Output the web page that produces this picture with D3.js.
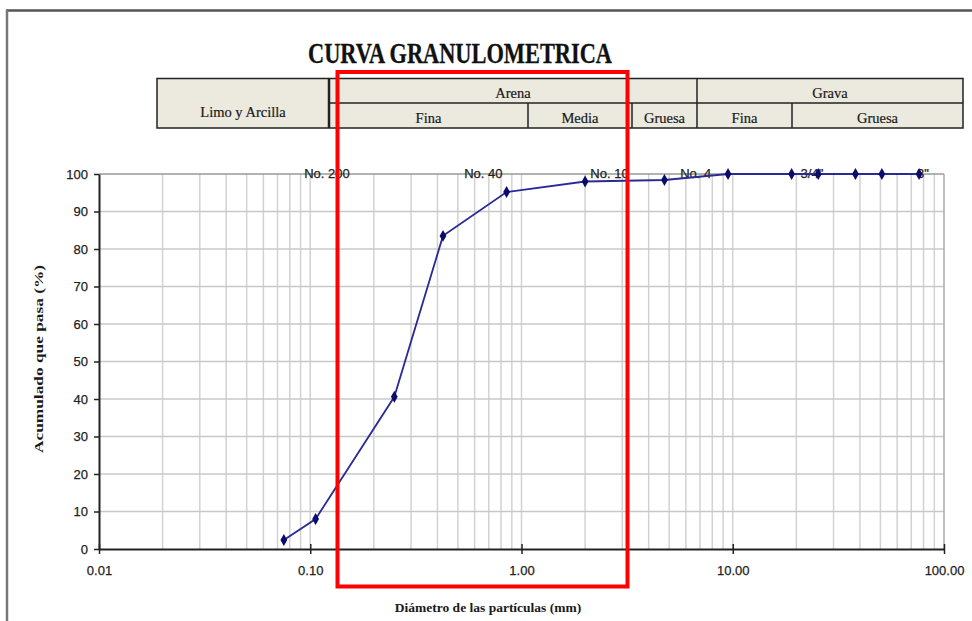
<!DOCTYPE html>
<html>
<head>
<meta charset="utf-8">
<script src="https://cdn.jsdelivr.net/npm/d3@7/dist/d3.min.js"></script>
<style>
html,body{margin:0;padding:0;background:#fff;}
svg{display:block;}
</style>
</head>
<body>
<script>
// ---- DATA ----
const diameters = [0.075, 0.106, 0.25, 0.425, 0.85, 2.0, 4.75, 9.5, 19.0, 25.4, 38.1, 50.8, 76.2];
const passing   = [2.4, 8.0, 40.6, 83.5, 95.2, 98.0, 98.4, 100, 100, 100, 100, 100, 100];
const sieveLabels = ["No. 200", "No. 40", "No. 10", "No. 4", "3/4\"", "3\""];
const sieveLabelAt = [0.12, 0.66, 2.61, 6.68, 23.7, 79.5];
const xTickValues = [0.01, 0.1, 1, 10, 100];
const xTickLabels = ["0.01", "0.10", "1.00", "10.00", "100.00"];
const yTickValues = [0, 10, 20, 30, 40, 50, 60, 70, 80, 90, 100];
const headerTop = ["Limo y Arcilla", "Arena", "Grava"];
const headerSub = ["Fina", "Media", "Gruesa", "Fina", "Gruesa"];
const titleText = "CURVA GRANULOMETRICA";
const yTitle = "Acumulado que pasa (%)";
const xTitle = "Diámetro de las partículas (mm)";

// ---- LAYOUT ----
const W = 972, H = 621;
const svg = d3.select("body").append("svg").attr("width", W).attr("height", H);
const serif = "'Liberation Serif', 'Times New Roman', serif";
const sans = "'Liberation Sans', Arial, sans-serif";

const x = d3.scaleLog().domain([0.01, 100]).range([99, 944]);
const y = d3.scaleLinear().domain([0, 100]).range([549, 174]);

// page frame
svg.append("line").attr("x1", 6).attr("x2", W).attr("y1", 10.5).attr("y2", 10.5)
  .attr("stroke", "#555").attr("stroke-width", 2.5);
svg.append("line").attr("x1", 7).attr("x2", 7).attr("y1", 10).attr("y2", H)
  .attr("stroke", "#777").attr("stroke-width", 2.5);

// title
svg.append("text").attr("x", 308).attr("y", 63)
  .attr("textLength", 304).attr("lengthAdjust", "spacingAndGlyphs")
  .attr("font-family", serif).attr("font-weight", "bold").attr("font-size", 29)
  .attr("fill", "#111").attr("stroke", "#111").attr("stroke-width", 0.3).text(titleText);

// header table
const tTop = 78.5, tMid = 103, tBot = 128;
const cols = { left: 157, limo: 329, fm: 528, mg: 632, ag: 697, gfg: 792, right: 963 };
const hdr = svg.append("g");
hdr.append("rect").attr("x", cols.left).attr("y", tTop)
  .attr("width", cols.right - cols.left).attr("height", tBot - tTop)
  .attr("fill", "#ECE9DF").attr("stroke", "#222").attr("stroke-width", 1.5);
const hl = (x1, y1, x2, y2, w) => hdr.append("line").attr("x1", x1).attr("y1", y1)
  .attr("x2", x2).attr("y2", y2).attr("stroke", "#222").attr("stroke-width", w || 1.5);
hl(cols.limo, tMid, cols.right, tMid);
hl(cols.limo, tTop, cols.limo, tBot, 2.5);
hl(cols.fm, tMid, cols.fm, tBot);
hl(cols.mg, tMid, cols.mg, tBot);
hl(cols.ag, tTop, cols.ag, tBot);
hl(cols.gfg, tMid, cols.gfg, tBot);
const ht = (cx, cy, s) => hdr.append("text").attr("x", cx).attr("y", cy)
  .attr("text-anchor", "middle").attr("font-family", serif).attr("font-size", 14.5)
  .attr("fill", "#1a1a1a").attr("stroke", "#1a1a1a").attr("stroke-width", 0.2).text(s);
ht((cols.left + cols.limo) / 2, 117, headerTop[0]);
ht((cols.limo + cols.ag) / 2, 98, headerTop[1]);
ht((cols.ag + cols.right) / 2, 98, headerTop[2]);
ht((cols.limo + cols.fm) / 2, 123, headerSub[0]);
ht((cols.fm + cols.mg) / 2, 123, headerSub[1]);
ht((cols.mg + cols.ag) / 2, 123, headerSub[2]);
ht((cols.ag + cols.gfg) / 2, 123, headerSub[3]);
ht((cols.gfg + cols.right) / 2, 123, headerSub[4]);

// grid
const grid = svg.append("g");
const minor = [];
for (let e = -2; e < 2; e++) for (let k = 1; k <= 9; k++) {
  const v = k * Math.pow(10, e);
  if (v > 0.01) minor.push(v);
}
grid.selectAll("line.v").data(minor).join("line")
  .attr("x1", d => x(d)).attr("x2", d => x(d)).attr("y1", y(0)).attr("y2", y(100))
  .attr("stroke", "#d2d2d2").attr("stroke-width", 1.5);
grid.selectAll("line.h").data(yTickValues.filter(v => v > 0 && v < 100)).join("line")
  .attr("x1", x(0.01)).attr("x2", x(100)).attr("y1", d => y(d)).attr("y2", d => y(d))
  .attr("stroke", "#c8c8c8").attr("stroke-width", 1.5);
grid.append("line").attr("x1", x(0.01)).attr("x2", x(100)).attr("y1", y(100)).attr("y2", y(100))
  .attr("stroke", "#999").attr("stroke-width", 1.5);
grid.append("line").attr("x1", x(100)).attr("x2", x(100)).attr("y1", y(0)).attr("y2", y(100))
  .attr("stroke", "#aaa").attr("stroke-width", 1.5);

// axes
const xAxis = d3.axisBottom(x).tickValues(xTickValues)
  .tickFormat((d, i) => xTickLabels[i]).tickSizeInner(5).tickSizeOuter(0).tickPadding(12);
const gx = svg.append("g").attr("transform", `translate(0,${y(0)})`).call(xAxis);
gx.select(".domain").attr("stroke", "#222").attr("stroke-width", 2);
gx.selectAll(".tick line").attr("y1", -5).attr("y2", 5).attr("stroke", "#222").attr("stroke-width", 1.5);
gx.selectAll(".tick text").attr("font-family", sans).attr("font-size", 13)
  .attr("fill", "#222").attr("stroke", "#222").attr("stroke-width", 0.25);

const yAxis = d3.axisLeft(y).tickValues(yTickValues).tickSizeInner(5).tickSizeOuter(0).tickPadding(6);
const gy = svg.append("g").attr("transform", `translate(${x(0.01)},0)`).call(yAxis);
gy.select(".domain").attr("stroke", "#222").attr("stroke-width", 2);
gy.selectAll(".tick line").attr("stroke", "#222").attr("stroke-width", 1.5);
gy.selectAll(".tick text").attr("font-family", sans).attr("font-size", 13)
  .attr("fill", "#222").attr("stroke", "#222").attr("stroke-width", 0.25);

// sieve labels
svg.append("g").selectAll("text").data(sieveLabels).join("text")
  .attr("x", (d, i) => x(sieveLabelAt[i])).attr("y", y(100) + 4)
  .attr("text-anchor", "middle").attr("font-family", sans).attr("font-size", 13)
  .attr("fill", "#222").attr("stroke", "#222").attr("stroke-width", 0.25).text(d => d);

// curve
const pts = diameters.map((d, i) => [d, passing[i]]);
svg.append("path").datum(pts)
  .attr("d", d3.line().x(d => x(d[0])).y(d => y(d[1])))
  .attr("fill", "none").attr("stroke", "#2a2a95").attr("stroke-width", 1.8);
svg.append("g").selectAll("path").data(pts).join("path")
  .attr("d", d3.symbol().type(d3.symbolDiamond).size(40))
  .attr("transform", d => `translate(${x(d[0])},${y(d[1])})`)
  .attr("fill", "#0b0b6b");

// axis titles
svg.append("text").attr("transform", "translate(43,359) rotate(-90)")
  .attr("text-anchor", "middle").attr("textLength", 188).attr("lengthAdjust", "spacingAndGlyphs")
  .attr("font-family", serif).attr("font-weight", "bold").attr("font-size", 13)
  .attr("fill", "#1a1a1a").text(yTitle);
svg.append("text").attr("x", 488).attr("y", 612)
  .attr("text-anchor", "middle").attr("font-family", serif).attr("font-weight", "bold")
  .attr("font-size", 13.5).attr("fill", "#1a1a1a").text(xTitle);

// red highlight box
svg.append("rect").attr("x", 337.5).attr("y", 72).attr("width", 290).attr("height", 514.5)
  .attr("fill", "none").attr("stroke", "#ff0000").attr("stroke-width", 4);
</script>
</body>
</html>
